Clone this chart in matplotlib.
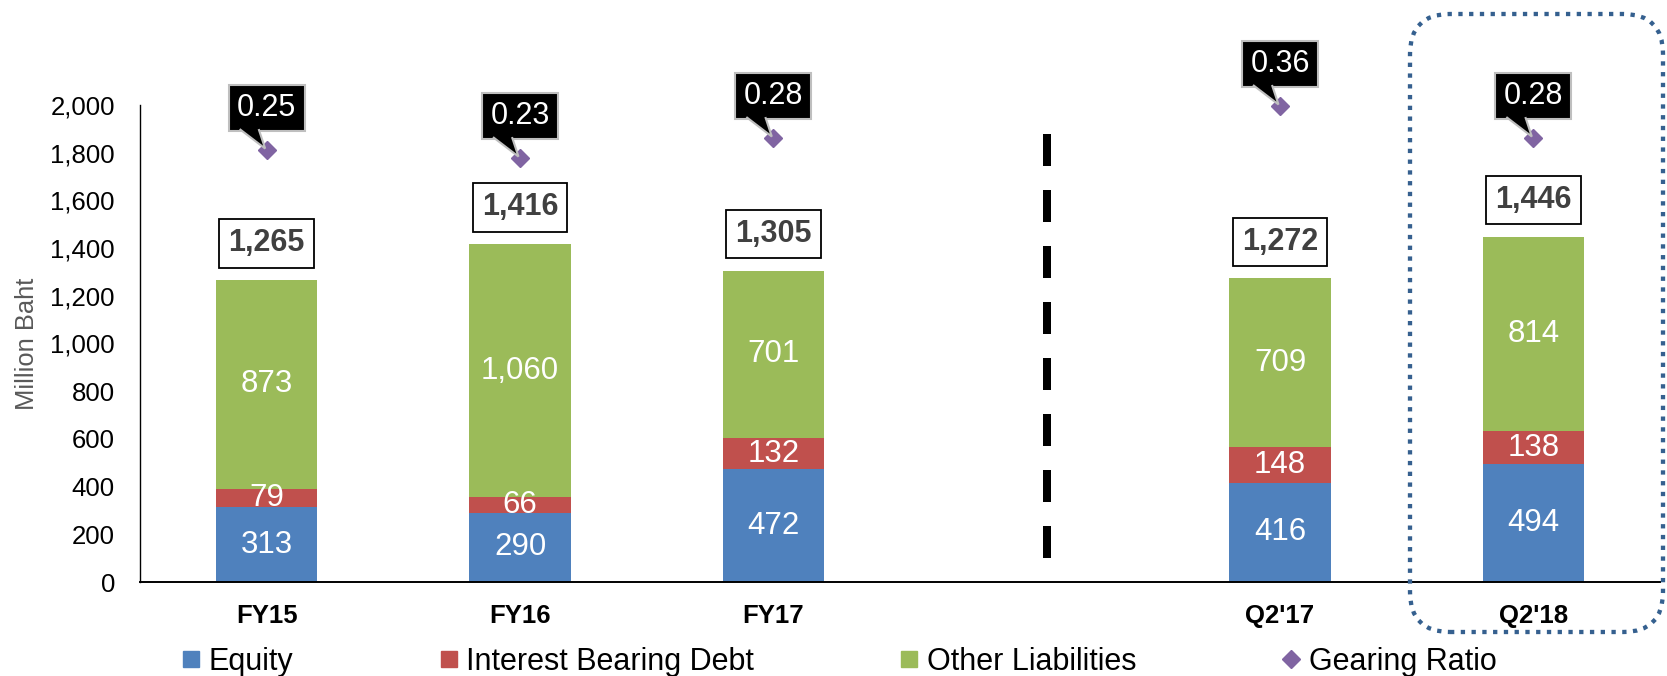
import matplotlib
matplotlib.use("Agg")
import matplotlib.pyplot as plt
from matplotlib.lines import Line2D
from matplotlib.patches import FancyBboxPatch, Polygon
from matplotlib.transforms import IdentityTransform, ScaledTranslation
from matplotlib.ticker import FuncFormatter

plt.rcParams['font.family'] = ['Liberation Sans', 'DejaVu Sans']

# ---- data ----
categories = ["FY15", "FY16", "FY17", "Q2'17", "Q2'18"]
equity = [313, 290, 472, 416, 494]
interest_debt = [79, 66, 132, 148, 138]
other_liab = [873, 1060, 701, 709, 814]
totals = [1265, 1416, 1305, 1272, 1446]
gearing = [0.25, 0.23, 0.28, 0.36, 0.28]
y_ticks = [0, 200, 400, 600, 800, 1000, 1200, 1400, 1600, 1800, 2000]
series_names = ["Equity", "Interest Bearing Debt", "Other Liabilities", "Gearing Ratio"]

C_EQ = '#4F81BD'
C_IBD = '#C0504D'
C_OL = '#9BBB59'
C_GR = '#8064A2'

W, H = 1667, 676
fig = plt.figure(figsize=(W / 100, H / 100), dpi=100)
ax = fig.add_axes([140 / W, 1 - 582 / H, 1520 / W, 477 / H])

# positions: one empty slot between FY17 and Q2'17
gap_after = 2
x = [i if i <= gap_after else i + 1 for i in range(len(categories))]
bw = 0.4

ax.bar(x, equity, bw, color=C_EQ, zorder=2)
ax.bar(x, interest_debt, bw, bottom=equity, color=C_IBD, zorder=2)
bottom3 = [e + d for e, d in zip(equity, interest_debt)]
ax.bar(x, other_liab, bw, bottom=bottom3, color=C_OL, zorder=2)

seg_fs = 22.5
for xi, e, d, o, b in zip(x, equity, interest_debt, other_liab, bottom3):
    ax.text(xi, e / 2, f"{e:,}", ha='center', va='center', color='white', fontsize=seg_fs, zorder=3)
    ax.text(xi, e + d / 2, f"{d:,}", ha='center', va='center', color='white', fontsize=seg_fs, zorder=3)
    ax.text(xi, b + o / 2, f"{o:,}", ha='center', va='center', color='white', fontsize=seg_fs, zorder=3)

# totals in framed boxes
for xi, t in zip(x, totals):
    ax.annotate(f"{t:,}", xy=(xi, t), xytext=(0, 26.6), textcoords='offset points',
                ha='center', va='center', fontsize=22, fontweight='bold', color='#404040',
                bbox=dict(boxstyle='square,pad=0.3', fc='white', ec='black', lw=1.3),
                annotation_clip=False, zorder=4)

ax.set_xlim(-0.5, 5.5)
ax.set_ylim(0, 2000)
ax.set_yticks(y_ticks)
ax.yaxis.set_major_formatter(FuncFormatter(lambda v, p: f"{int(v):,}"))
ax.set_xticks(x)
ax.set_xticklabels(categories, fontweight='bold')
ax.tick_params(axis='y', length=0, pad=18, labelsize=18.5, colors='black')
ax.tick_params(axis='x', length=0, pad=16, labelsize=18.5, colors='black')
for s in ['top', 'right']:
    ax.spines[s].set_visible(False)
ax.spines['left'].set_linewidth(1.0)
ax.spines['bottom'].set_linewidth(1.4)

# dashed separator
ax.vlines(3.08, 100, 1880, colors='black', linewidth=5.76, linestyles=(0, (4, 3)), zorder=2)

# gearing ratio on hidden secondary axis
ax2 = ax.twinx()
ax2.set_ylim(-0.828, 0.3625)
ax2.axis('off')
ax2.plot(x, gearing, linestyle='none', marker='D', markersize=9.5, color=C_GR,
         zorder=5, clip_on=False)
for xi, g in zip(x, gearing):
    ax2.annotate(f"{g:.2f}", xy=(xi, g), xytext=(0, 30.2), textcoords='offset points',
                 ha='center', va='center', fontsize=22, color='white',
                 bbox=dict(boxstyle='square,pad=0.27', fc='black', ec='#BFBFBF', lw=1.5),
                 annotation_clip=False, zorder=4)
    # callout tail (offsets in inches relative to the marker)
    tr = fig.dpi_scale_trans + ScaledTranslation(xi, g, ax2.transData)
    tail = Polygon([(-0.27, 0.21), (-0.015, 0.015), (-0.08, 0.21)], closed=False,
                   transform=tr, fc='black', ec='#BFBFBF', lw=1.5, zorder=6, clip_on=False)
    ax2.add_patch(tail)

fig.text(27 / W, 1 - 343.5 / H, 'Million Baht', rotation=90, ha='center', va='center',
         color='#595959', fontsize=18.4)

handles = [
    Line2D([], [], marker='s', linestyle='none', markersize=11.5, color=C_EQ),
    Line2D([], [], marker='s', linestyle='none', markersize=11.5, color=C_IBD),
    Line2D([], [], marker='s', linestyle='none', markersize=11.5, color=C_OL),
    Line2D([], [], marker='D', linestyle='none', markersize=9.2, color=C_GR),
]
fig.legend(handles, series_names, loc='center left', bbox_to_anchor=(183 / W, 1 - 662 / H),
           bbox_transform=fig.transFigure, ncol=4, frameon=False, fontsize=22,
           borderpad=0, borderaxespad=0, handlelength=0.55, handletextpad=0.3,
           columnspacing=4.8)

# dotted rounded highlight box around last category
hl = FancyBboxPatch((1410, H - 632), 1663 - 1410, 632 - 14,
                    boxstyle='round,pad=0,rounding_size=40', transform=IdentityTransform(),
                    fill=False, ec='#35608F', lw=3.1, linestyle=(0, (1, 1.5)))
hl.set_capstyle('butt')
fig.add_artist(hl)

fig.savefig('out.png', dpi=100)
